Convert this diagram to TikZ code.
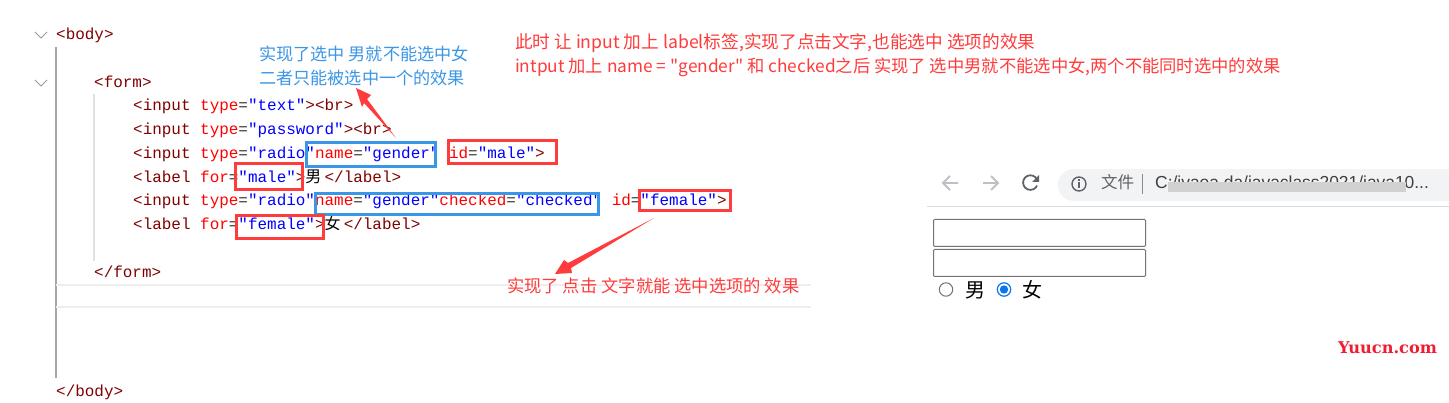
\documentclass[tikz,border=0pt]{standalone}
\usepackage{fontspec}
\setmainfont{Liberation Sans}
\newfontfamily\codef{Liberation Mono}
\newfontfamily\zhf{Noto Sans CJK SC}
\newfontfamily\markf{DejaVu Serif}
\definecolor{tagc}{HTML}{800000}
\definecolor{attc}{HTML}{FF0000}
\definecolor{valc}{HTML}{0000FF}
\definecolor{eqc}{HTML}{333333}
\definecolor{redmark}{HTML}{FF3B3B}
\definecolor{bluemark}{HTML}{3A96E6}
\definecolor{guide}{HTML}{A6A6A6}
\definecolor{guidel}{HTML}{E0E0E0}
\definecolor{rowline}{HTML}{EEEEEE}
\definecolor{pill}{HTML}{F1F3F4}
\definecolor{iconl}{HTML}{BDC1C6}
\definecolor{icond}{HTML}{5F6368}
\definecolor{chrome}{HTML}{DADCE0}
\definecolor{radioblue}{HTML}{0B75F0}
\definecolor{wmark}{HTML}{F01C30}
\newcommand{\cT}[1]{\textcolor{tagc}{#1}}
\newcommand{\cA}[1]{\textcolor{attc}{#1}}
\newcommand{\cV}[1]{\textcolor{valc}{#1}}
\newcommand{\cE}[1]{\textcolor{eqc}{#1}}
\newcommand{\zhcode}[1]{\makebox[19.14pt][l]{\zhf\fontsize{16}{16}\selectfont\color{black}#1}}
\tikzset{
  code/.style={anchor=base west,inner sep=0pt,font=\codef\fontsize{15.95}{16}\selectfont},
  redbox/.style={draw=redmark,line width=3pt,inner sep=0pt},
  bluebox/.style={draw=bluemark,line width=3pt,inner sep=0pt},
  notered/.style={anchor=base west,inner sep=0pt,text=redmark,font=\zhf\fontsize{17.3}{17}\selectfont},
  noteblue/.style={anchor=base west,inner sep=0pt,text=bluemark,font=\zhf\fontsize{17.15}{17}\selectfont},
  navicon/.style={draw=iconl,line width=1.8pt},
  field/.style={draw=black!55,line width=1pt,rounded corners=1pt,inner sep=0pt,anchor=north west},
}
\begin{document}
\begin{tikzpicture}[x=1pt,y=-1pt]
\useasboundingbox (0,0) rectangle (1449,403);
\fill[white] (0,0) rectangle (1449,403);
% editor guides
\draw[guide,line width=1.6pt] (56,47) -- (56,378);
\draw[guidel,line width=1.2pt] (94,94) -- (94,261);
\draw[rowline,line width=1.5pt] (56,285) -- (811,285);
\draw[rowline,line width=1.5pt] (56,307) -- (811,307);
\draw[black!40,line width=0.9pt] (35,32) -- (41,38) -- (47,32);
\draw[black!40,line width=0.9pt] (35,80) -- (41,86) -- (47,80);
% code
\node[code] (l1) at (56,40) {\cT{<body>}};
\node[code] (l2) at (94,88) {\cT{<form>}};
\node[code] (l3) at (133,111) {\cT{<input} \cA{type}\cE{=}\cV{"text"}\cT{><br>}};
\node[code] (l4) at (133,135) {\cT{<input} \cA{type}\cE{=}\cV{"password"}\cT{><br>}};
\node[code] (l5) at (133,159) {\cT{<input} \cA{type}\cE{=}\cV{"radio"}\cA{name}\cE{=}\cV{"gender"} \cA{id}\cE{=}\cV{"male"}\cT{>}};
\node[code] (l6) at (133,183) {\cT{<label} \cA{for}\cE{=}\cV{"male"}\cT{>}\zhcode{男}\cT{</label>}};
\node[code] (l7) at (133,206) {\cT{<input} \cA{type}\cE{=}\cV{"radio"}\cA{name}\cE{=}\cV{"gender"}\cA{checked}\cE{=}\cV{"checked"} \cA{id}\cE{=}\cV{"female"}\cT{>}};
\node[code] (l8) at (133,230) {\cT{<label} \cA{for}\cE{=}\cV{"female"}\cT{>}\zhcode{女}\cT{</label>}};
\node[code] (l9) at (94,278) {\cT{</form>}};
\node[code] (l10) at (56,396) {\cT{</body>}};
% highlight boxes
\node[bluebox,minimum width=129pt,minimum height=24pt] (bGenderA) at (370.5,155) {};
\node[redbox,minimum width=108pt,minimum height=23pt] (rId) at (502,152) {};
\node[redbox,minimum width=67pt,minimum height=26pt] (rMale) at (269,177) {};
\node[bluebox,minimum width=283pt,minimum height=21pt] (bGenderB) at (456.5,204) {};
\node[redbox,minimum width=91pt,minimum height=20pt] (rFemaleA) at (685,201) {};
\node[redbox,minimum width=87pt,minimum height=23pt] (rFemaleB) at (280,227) {};
% notes
\node[noteblue] (nb1) at (259,61) {实现了选中 男就不能选中女};
\node[noteblue] (nb2) at (259,85) {二者只能被选中一个的效果};
\node[notered,font=\zhf\fontsize{17.65}{17}\selectfont] (nr1) at (515,49) {此时 让 input 加上 label标签,实现了点击文字,也能选中 选项的效果};
\node[notered] (nr2) at (515,73) {intput 加上 name = "gender" 和 checked之后 实现了 选中男就不能选中女,两个不能同时选中的效果};
\node[notered] (nr3) at (507,293) {实现了 点击 文字就能 选中选项的 效果};
% arrows
\coordinate (aTail) at (396,138);
\coordinate (aTip) at (356,88);
\fill[redmark] (aTail) -- (367,99) -- (371,95) -- (aTip) -- (362,107) -- (364,103) -- cycle;
\coordinate (cTail) at (654,218);
\coordinate (cTip) at (555,274);
\fill[redmark] (cTail) -- (568,263) -- (564,260) -- (cTip) -- (572,273) -- (571,268) -- cycle;
% browser
\draw[navicon] (958,183) -- (943,183) (950,176) -- (943,183) -- (950,190);
\draw[navicon] (983,183) -- (998,183) (991,176) -- (998,183) -- (991,190);
\draw[icond,line width=1.8pt] (1037,179.5) arc[start angle=-25,end angle=-335,radius=7.3];
\fill[icond] (1039,175) -- (1039,182) -- (1032,182) -- cycle;
\fill[pill] (1074,185) circle[radius=16];
\fill[pill] (1074,169) rectangle (1449,201);
\draw[icond,line width=1.4pt] (1079,184) circle[radius=7];
\fill[icond] (1078.2,182.5) rectangle (1079.8,188);
\fill[icond] (1078.2,179.5) rectangle (1079.8,181);
\node[anchor=base west,inner sep=0pt,text=icond,font=\zhf\fontsize{16.5}{16}\selectfont] (urlA) at (1101,189) {文件};
\fill[black!45] (1141.5,174) rectangle (1143,194);
\node[anchor=base west,inner sep=0pt,text=black!75,font=\fontsize{17.4}{17}\selectfont] (urlB) at (1155,189) {C:/jvaoa.da/javaclass2021/java10...};
\fill[black!18] (1168,182) rectangle (1406,192);
\draw[chrome,line width=1pt] (927,207) -- (1449,207);
\node[field,minimum width=212pt,minimum height=27pt] (f1) at (933,219) {};
\node[field,minimum width=212pt,minimum height=27pt] (f2) at (933,249) {};
\draw[black!55,line width=1pt,fill=white] (946,289.5) circle[radius=6.7];
\node[anchor=base west,inner sep=0pt,font=\zhf\fontsize{20}{20}\selectfont] (m) at (965,298) {男};
\draw[radioblue,line width=1.2pt,fill=white] (1004,289.5) circle[radius=6.7];
\fill[radioblue] (1004,289.5) circle[radius=4.2];
\node[anchor=base west,inner sep=0pt,font=\zhf\fontsize{20}{20}\selectfont] (f) at (1022,298) {女};
\node[anchor=base west,inner sep=0pt,text=wmark,font=\markf\bfseries\fontsize{16.2}{16}\selectfont] (mark) at (1338,354) {Yuucn.com};
\end{tikzpicture}
\end{document}
